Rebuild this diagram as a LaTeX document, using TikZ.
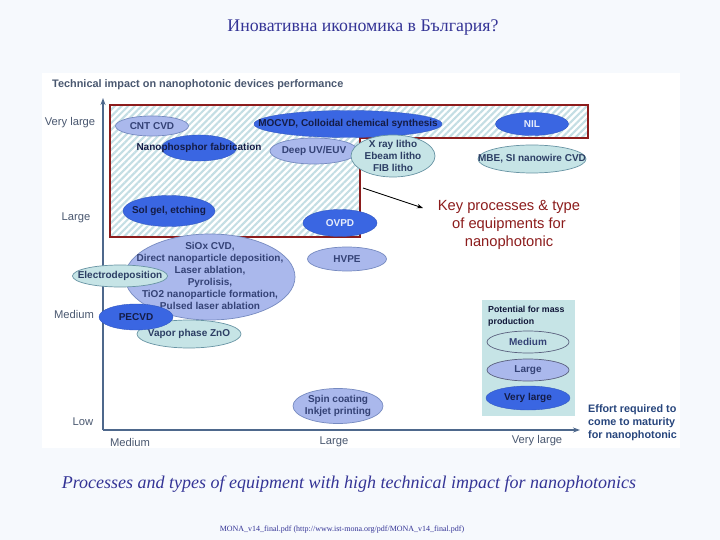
\documentclass[tikz,border=0pt]{standalone}
\usepackage{fontspec}
\setmainfont{Liberation Serif}
\newfontfamily\sansf{Liberation Sans}
\usetikzlibrary{shapes.geometric,arrows.meta,patterns.meta}
\definecolor{bgcol}{RGB}{246,249,253}
\definecolor{dkb}{RGB}{58,102,226}
\definecolor{lav}{RGB}{170,184,236}
\definecolor{lavb}{RGB}{118,138,192}
\definecolor{tea}{RGB}{198,228,230}
\definecolor{teab}{RGB}{104,148,164}
\definecolor{redb}{RGB}{140,28,28}
\definecolor{hatch}{RGB}{196,222,228}
\definecolor{axcol}{RGB}{78,104,140}
\definecolor{lblcol}{RGB}{74,88,112}
\definecolor{ttl}{RGB}{52,52,150}
\definecolor{navy}{RGB}{20,28,70}
\definecolor{lavtxt}{RGB}{52,66,118}
\definecolor{teatxt}{RGB}{44,62,100}
\definecolor{efcol}{RGB}{40,70,125}
\tikzset{
  ell/.style={ellipse, inner sep=0pt},
  dkell/.style={ell, fill=dkb, draw=dkb!85!black, line width=0.4pt},
  lavell/.style={ell, fill=lav, draw=lavb, line width=0.7pt},
  teaell/.style={ell, fill=tea, draw=teab, line width=0.7pt},
  etxt/.style={font=\sansf\bfseries\fontsize{10}{12}\selectfont, align=center, inner sep=0pt},
  axlbl/.style={font=\sansf\fontsize{11.2}{13}\selectfont, text=lblcol, inner sep=0pt},
}
\begin{document}
\begin{tikzpicture}[x=1pt,y=-1pt]
\useasboundingbox (0,0) rectangle (720,540);
\fill[bgcol] (0,0) rectangle (720,540);
\fill[white] (42,73) rectangle (680,448);
% title
\node[font=\fontsize{17.8}{20}\selectfont, text=ttl] (title) at (363,28) {Иновативна икономика в България?};
% header
\node[font=\sansf\bfseries\fontsize{10.9}{13}\selectfont, text=lblcol, anchor=west, inner sep=0pt] (head) at (52,85) {Technical impact on nanophotonic devices performance};
% hatched region
\path[fill=white] (110,105) -- (588,105) -- (588,138) -- (360,138) -- (360,237) -- (110,237) -- cycle;
\path[pattern={Lines[angle=45,distance=4.7pt,line width=2.1pt]}, pattern color=hatch] (110,105) -- (588,105) -- (588,138) -- (360,138) -- (360,237) -- (110,237) -- cycle;
\draw[redb, line width=2.6pt] (110,105) -- (588,105) -- (588,138) -- (360,138) -- (360,237) -- (110,237) -- cycle;
% axes
\coordinate (origin) at (103,430);
\coordinate (ytop) at (103,98);
\coordinate (xend) at (580,430);
\draw[axcol, line width=1.3pt, -{Stealth[length=7pt,width=5pt]}] (origin) -- (ytop);
\draw[axcol, line width=1.3pt, -{Stealth[length=7pt,width=5pt]}] (origin) -- (xend);
% y labels
\node[axlbl] (yvl) at (70,123) {Very large};
\node[axlbl] (yl) at (76,218) {Large};
\node[axlbl] (ym) at (74,314) {Medium};
\node[axlbl] (ylow) at (83,422) {Low};
% x labels
\node[axlbl] (xm) at (130,442) {Medium};
\node[axlbl] (xl) at (334,442) {Large};
\node[axlbl] (xvl) at (537,441) {Very large};
\node[font=\sansf\bfseries\fontsize{10.8}{13}\selectfont, text=efcol, align=left, anchor=west, inner sep=0pt] (effort) at (588,423) {Effort required to\\come to maturity\\for nanophotonic};
% ellipses
\node[lavell, minimum width=73, minimum height=20] (cnt) at (152,126) {};
\node[etxt, text=lavtxt] at (cnt) {CNT CVD};
\node[dkell, minimum width=75, minimum height=26] (nano) at (199,148) {};
\node[etxt, text=navy] at (nano) {Nanophosphor fabrication};
\node[dkell, minimum width=188, minimum height=27] (mocvd) at (348,124) {};
\node[etxt, text=navy] at (mocvd) {MOCVD, Colloidal chemical synthesis};
\node[dkell, minimum width=73, minimum height=23] (nil) at (532,124) {};
\node[etxt, text=white!88!dkb] at (nil) {NIL};
\node[lavell, minimum width=88, minimum height=26] (duv) at (314,151) {};
\node[etxt, text=lavtxt] at (duv) {Deep UV/EUV};
\node[teaell, minimum width=84, minimum height=42] (xray) at (393,156) {};
\node[etxt, text=teatxt, font=\sansf\bfseries\fontsize{10}{11.8}\selectfont] at (xray) {X ray litho\\Ebeam litho\\FIB litho};
\node[teaell, minimum width=108, minimum height=28] (mbe) at (532,159) {};
\node[etxt, text=teatxt] at (mbe) {MBE, SI nanowire CVD};
\node[dkell, minimum width=92, minimum height=31] (sol) at (169,211) {};
\node[etxt, text=navy] at (sol) {Sol gel, etching};
\node[dkell, minimum width=74, minimum height=27] (ovpd) at (340,223) {};
\node[etxt, text=white!88!dkb] at (ovpd) {OVPD};
\node[lavell, minimum width=79, minimum height=24] (hvpe) at (347,259) {};
\node[etxt, text=lavtxt] at (hvpe) {HVPE};
\node[lavell, minimum width=170, minimum height=86] (siox) at (210,277) {};
\node[etxt, text=lavtxt, font=\sansf\bfseries\fontsize{10}{12}\selectfont] at (210,276) {SiOx CVD,\\Direct nanoparticle deposition,\\Laser ablation,\\Pyrolisis,\\TiO2 nanoparticle formation,\\Pulsed laser ablation};
\node[teaell, minimum width=95, minimum height=22] (electro) at (120,276) {};
\node[etxt, text=teatxt] at (electro) {Electrodeposition};
\node[teaell, minimum width=104, minimum height=28] (vapor) at (189,334) {};
\node[etxt, text=teatxt] at (vapor) {Vapor phase ZnO};
\node[dkell, minimum width=74, minimum height=26] (pecvd) at (136,317) {};
\node[etxt, text=navy] at (pecvd) {PECVD};
\node[lavell, minimum width=90, minimum height=35] (spin) at (338,406) {};
\node[etxt, text=lavtxt, font=\sansf\bfseries\fontsize{10}{11.8}\selectfont] at (spin) {Spin coating\\Inkjet printing};
% key text and arrow
\node[font=\sansf\fontsize{14.7}{18}\selectfont, text=redb, align=center, inner sep=0pt] (key) at (509,225) {Key processes \& type\\of equipments for\\nanophotonic};
\coordinate (arrs) at (363,188);
\coordinate (arre) at (423,208);
\draw[black, line width=0.9pt, -{Stealth[length=6pt,width=4.5pt]}] (arrs) -- (arre);
% legend
\node[fill=tea, minimum width=93, minimum height=116, inner sep=0pt] (legend) at (528.5,358) {};
\node[font=\sansf\bfseries\fontsize{8.8}{12}\selectfont, text=navy!80!black, align=left, anchor=north west, inner sep=0pt] (legtitle) at (488,306) {Potential for mass\\production};
\node[teaell, draw=navy!70, minimum width=82, minimum height=22] (lmed) at (528,342) {};
\node[etxt, text=lavtxt] at (lmed) {Medium};
\node[lavell, draw=navy!70, minimum width=82, minimum height=22] (llarge) at (528,370) {};
\node[etxt, text=lavtxt] at (llarge) {Large};
\node[dkell, minimum width=84, minimum height=24] (lvl) at (528,398) {};
\node[etxt, text=navy] at (lvl) {Very large};
% caption
\node[font=\itshape\fontsize{18}{20}\selectfont, text=ttl] (caption) at (349,484) {Processes and types of equipment with high technical impact for nanophotonics};
\node[font=\fontsize{8}{9}\selectfont, text=ttl] (footer) at (342,530) {MONA\_v14\_final.pdf (http://www.ist-mona.org/pdf/MONA\_v14\_final.pdf)};
\end{tikzpicture}
\end{document}
